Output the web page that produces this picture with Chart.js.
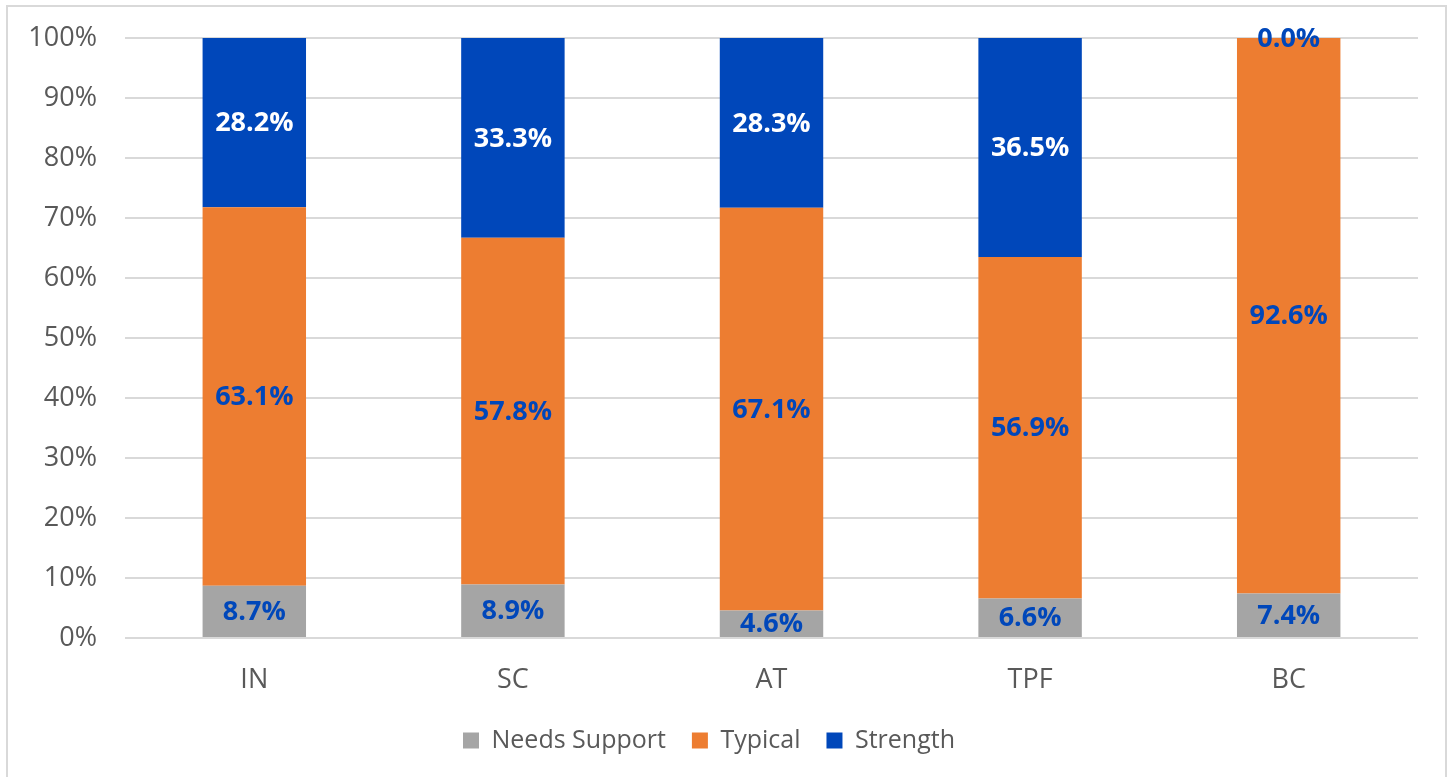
<!DOCTYPE html>
<html>
<head>
<meta charset="utf-8">
<script src="https://cdn.jsdelivr.net/npm/chart.js@4/dist/chart.umd.min.js"></script>
<style>
    body { margin: 0; background: #ffffff; overflow: hidden; }
    .frame { position: absolute; left: 6px; top: 5px; width: 1437px; height: 800px; border: 2px solid #d9d9d9; }
    .wrap { position: absolute; left: 0; top: 0; width: 1452px; height: 777px; }
</style>
</head>
<body>
<div class="frame"></div>
<div class="wrap"><canvas id="ratingChart"></canvas></div>
<script>
// Categories along the x-axis
const categories = ['IN', 'SC', 'AT', 'TPF', 'BC'];

// Percent values per rating group
const needsSupport = [8.7, 8.9, 4.6, 6.6, 7.4];
const typical = [63.1, 57.8, 67.1, 56.9, 92.6];
const strength = [28.2, 33.3, 28.3, 36.5, 0.0];

// Y-axis tick values
const yTicks = [0, 10, 20, 30, 40, 50, 60, 70, 80, 90, 100];

const FONT = "'Open Sans', sans-serif";
const BLUE = '#0047BA';

// Draw the value labels centered on each bar segment
const segmentLabels = {
    id: 'segmentLabels',
    afterDatasetsDraw(chart) {
        const ctx = chart.ctx;
        ctx.save();
        ctx.font = 'bold 27px ' + FONT;
        ctx.textAlign = 'center';
        ctx.textBaseline = 'middle';
        chart.data.datasets.forEach(function(ds, i) {
            const meta = chart.getDatasetMeta(i);
            meta.data.forEach(function(bar, j) {
                const p = bar.getProps(['x', 'y', 'base'], true);
                // empty segments get the blue label so they stay readable
                ctx.fillStyle = ds.data[j] === 0 ? BLUE : ds.labelColor;
                ctx.fillText(ds.data[j].toFixed(1) + '%', p.x, (p.y + p.base) / 2 + 1);
            });
        });
        ctx.restore();
    }
};

document.addEventListener('DOMContentLoaded', function() {
    const ctx = document.getElementById('ratingChart').getContext('2d');

    new Chart(ctx, {
        type: 'bar',
        data: {
            labels: categories,
            datasets: [
                { label: 'Needs Support', data: needsSupport, backgroundColor: '#A5A5A5', labelColor: BLUE },
                { label: 'Typical', data: typical, backgroundColor: '#ED7D31', labelColor: BLUE },
                { label: 'Strength', data: strength, backgroundColor: BLUE, labelColor: '#ffffff' }
            ]
        },
        options: {
            responsive: true,
            maintainAspectRatio: false,
            animation: false,
            categoryPercentage: 1,
            barPercentage: 0.4,
            layout: { padding: { top: 38, right: 34, bottom: 14, left: 0 } },
            scales: {
                x: {
                    stacked: true,
                    grid: { display: false },
                    border: { display: false },
                    ticks: { color: '#595959', font: { family: FONT, size: 27 }, padding: 18 },
                    afterFit: function(scale) { scale.height = 64; }
                },
                y: {
                    stacked: true,
                    min: 0,
                    max: 100,
                    afterBuildTicks: function(scale) { scale.ticks = yTicks.map(v => ({ value: v })); },
                    grid: { color: '#d9d9d9', lineWidth: 2, drawTicks: false },
                    border: { display: false },
                    ticks: {
                        color: '#595959',
                        font: { family: FONT, size: 27 },
                        padding: 28,
                        callback: function(v) { return v + '%'; }
                    },
                    afterFit: function(scale) {
                        scale.width = 125;
                        scale.paddingTop = 0;
                        scale.paddingBottom = 0;
                    }
                }
            },
            plugins: {
                legend: {
                    position: 'bottom',
                    labels: {
                        color: '#595959',
                        font: { family: FONT, size: 25 },
                        boxWidth: 16,
                        boxHeight: 16,
                        padding: 26
                    }
                },
                tooltip: { enabled: false }
            }
        },
        plugins: [segmentLabels]
    });
});
</script>
</body>
</html>
